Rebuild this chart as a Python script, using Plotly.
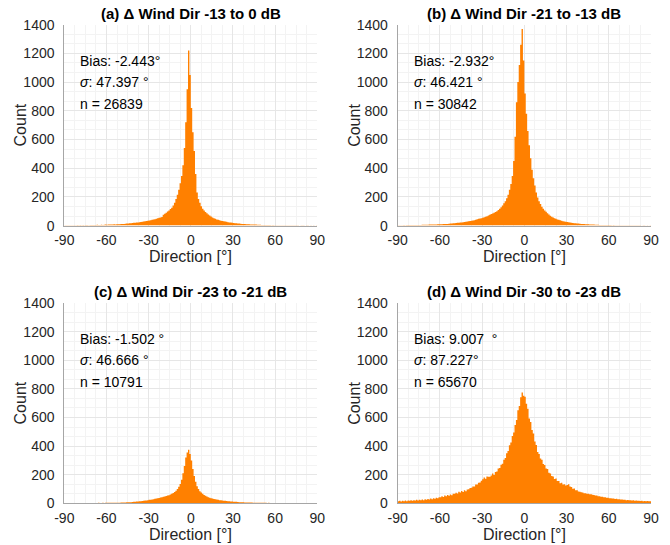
import numpy as np
import plotly.graph_objects as go

# 1-degree bins from -90 to 90
BIN_LEFT = list(range(-90, 90))
X_TICKS = [-90, -60, -30, 0, 30, 60, 90]
Y_TICKS = [0, 200, 400, 600, 800, 1000, 1200, 1400]

TITLES = ["(a) \u0394 Wind Dir -13 to 0 dB", "(b) \u0394 Wind Dir -21 to -13 dB",
          "(c) \u0394 Wind Dir -23 to -21 dB", "(d) \u0394 Wind Dir -30 to -23 dB"]
BIAS = ["Bias: -2.443\u00b0", "Bias: -2.932\u00b0", "Bias: -1.502 \u00b0", "Bias: 9.007  \u00b0"]
SIGMA = ["<i>\u03c3</i>: 47.397 \u00b0", "<i>\u03c3</i>: 46.421 \u00b0",
         "<i>\u03c3</i>: 46.666 \u00b0", "<i>\u03c3</i>: 87.227\u00b0"]
NCOUNT = ["n = 26839", "n = 30842", "n = 10791", "n = 65670"]

counts_a = [
    2, 3, 2, 3, 2, 3, 3, 2, 3, 4,
    3, 4, 3, 4, 3, 5, 4, 3, 4, 5,
    4, 5, 4, 6, 5, 5, 6, 5, 6, 7,
    6, 7, 8, 7, 8, 9, 8, 9, 10, 9,
    11, 12, 12, 13, 14, 15, 16, 17, 18, 19,
    20, 21, 22, 24, 25, 26, 28, 30, 32, 34,
    35, 37, 40, 42, 45, 48, 51, 54, 57, 60,
    75, 82, 90, 98, 106, 115, 125, 140, 160, 185,
    215, 250, 295, 345, 420, 540, 720, 950, 1220, 1050,
    820, 650, 520, 360, 230, 185, 160, 135, 118, 105,
    95, 86, 78, 70, 63, 57, 52, 47, 43, 40,
    37, 34, 32, 30, 28, 26, 24, 22, 21, 20,
    18, 17, 16, 15, 14, 13, 12, 11, 11, 10,
    9, 9, 8, 8, 7, 7, 7, 6, 6, 6,
    5, 5, 4, 5, 4, 4, 4, 3, 4, 3,
    3, 3, 3, 3, 2, 3, 2, 2, 3, 2,
    2, 2, 2, 3, 2, 2, 2, 1, 2, 2,
    2, 1, 2, 2, 1, 2, 1, 2, 1, 2,
]

counts_b = [
    3, 3, 3, 3, 4, 3, 4, 4, 4, 4,
    4, 4, 4, 5, 5, 5, 5, 6, 6, 6,
    6, 6, 7, 7, 7, 8, 8, 8, 9, 9,
    10, 10, 11, 11, 12, 12, 13, 14, 15, 16,
    17, 18, 19, 20, 21, 22, 24, 25, 27, 28,
    30, 32, 34, 36, 38, 41, 44, 47, 50, 52,
    55, 58, 62, 66, 70, 75, 80, 85, 90, 95,
    100, 108, 118, 128, 140, 155, 170, 190, 215, 250,
    290, 345, 450, 620, 860, 1000, 1120, 1260, 1370, 1150,
    920, 780, 660, 560, 470, 390, 330, 280, 230, 195,
    170, 150, 132, 118, 106, 96, 86, 77, 69, 62,
    56, 51, 47, 43, 40, 37, 34, 31, 29, 27,
    25, 23, 21, 20, 18, 17, 16, 15, 14, 13,
    12, 11, 11, 10, 9, 9, 8, 8, 7, 7,
    6, 6, 6, 5, 5, 5, 5, 4, 4, 4,
    4, 4, 3, 4, 3, 3, 3, 3, 3, 3,
    3, 2, 3, 2, 2, 3, 2, 2, 2, 2,
    2, 2, 2, 1, 2, 2, 1, 2, 1, 2,
]

counts_c = [
    1, 1, 2, 1, 1, 1, 2, 1, 1, 2,
    1, 2, 1, 2, 1, 2, 2, 1, 2, 2,
    2, 2, 2, 2, 3, 2, 2, 3, 2, 3,
    3, 3, 3, 3, 4, 3, 4, 4, 4, 4,
    5, 5, 6, 6, 7, 7, 8, 8, 9, 10,
    11, 12, 13, 14, 15, 16, 17, 19, 20, 22,
    24, 25, 27, 29, 31, 33, 35, 37, 40, 42,
    45, 48, 51, 54, 57, 61, 66, 72, 79, 88,
    100, 115, 135, 165, 210, 260, 320, 355, 375, 345,
    300, 240, 190, 150, 120, 100, 85, 75, 66, 58,
    52, 47, 43, 39, 36, 33, 30, 28, 26, 24,
    22, 21, 19, 18, 17, 16, 15, 14, 13, 12,
    11, 10, 10, 9, 8, 8, 7, 7, 6, 6,
    6, 5, 5, 5, 4, 4, 4, 4, 3, 3,
    3, 3, 3, 3, 2, 3, 2, 2, 2, 2,
    2, 2, 2, 2, 2, 1, 2, 2, 1, 2,
    1, 2, 1, 1, 2, 1, 1, 1, 2, 1,
    1, 1, 1, 1, 1, 1, 1, 1, 1, 1,
]

counts_d = [
    14, 17, 12, 18, 15, 19, 14, 20, 17, 21,
    17, 22, 19, 24, 19, 25, 21, 27, 22, 28,
    25, 30, 27, 33, 29, 36, 32, 39, 35, 43,
    42, 49, 44, 54, 49, 58, 53, 62, 57, 67,
    66, 74, 69, 80, 75, 86, 79, 91, 85, 97,
    98, 107, 108, 118, 117, 131, 132, 144, 146, 158,
    168, 181, 172, 188, 186, 185, 194, 208, 198, 218,
    222, 243, 247, 270, 276, 305, 316, 350, 365, 405,
    425, 470, 495, 548, 582, 650, 680, 742, 775, 752,
    745, 695, 660, 592, 568, 512, 488, 432, 408, 358,
    345, 314, 305, 274, 268, 244, 240, 214, 208, 190,
    188, 170, 173, 156, 155, 141, 143, 131, 133, 124,
    128, 134, 118, 114, 102, 103, 92, 92, 83, 81,
    77, 76, 71, 71, 67, 67, 63, 63, 59, 58,
    54, 54, 49, 49, 45, 46, 42, 43, 39, 39,
    36, 36, 33, 34, 30, 31, 28, 29, 26, 27,
    24, 25, 22, 23, 21, 22, 19, 21, 18, 19,
    17, 18, 16, 17, 15, 16, 15, 16, 14, 15,
]

ALL_COUNTS = [counts_a, counts_b, counts_c, counts_d]

W, H = 670, 545
ORANGE = "#ff8000"
FONT = "Liberation Sans, Arial, Helvetica, sans-serif"

# panel pixel boxes (left, right, top, bottom)
boxes = [(64.3, 317.3, 24.7, 225.6), (397.7, 651.0, 24.7, 225.6),
         (64.3, 317.3, 303.0, 503.3), (397.7, 651.0, 303.0, 503.3)]

fig = go.Figure()
layout = dict(width=W, height=H, margin=dict(l=0, r=0, t=0, b=0, pad=0, autoexpand=False),
              paper_bgcolor="white", plot_bgcolor="white", showlegend=False,
              font=dict(family=FONT, size=14, color="#262626"))
annotations = []

for i, (cnts, box) in enumerate(zip(ALL_COUNTS, boxes)):
    n = "" if i == 0 else str(i + 1)
    xs = BIN_LEFT + [90]
    ys = cnts + [cnts[-1]]
    fig.add_trace(go.Scatter(x=xs, y=ys, mode="lines", line=dict(width=0, shape="hv", color=ORANGE),
                             fill="tozeroy", fillcolor=ORANGE, xaxis="x" + n, yaxis="y" + n,
                             hoverinfo="skip"))
    l, r, t, b = box
    xd = [l / W, r / W]
    yd = [1 - b / H, 1 - t / H]
    common = dict(showgrid=True, gridcolor="#e6e6e6", gridwidth=1,
                  showline=True, linecolor="#a6a6a6", linewidth=1, ticks="",
                  zeroline=False, fixedrange=True, automargin=False,
                  tickfont=dict(size=14, color="#262626", family=FONT))
    layout["xaxis" + n] = dict(domain=xd, range=[-90, 90], tickvals=X_TICKS, ticktext=[str(v) for v in X_TICKS],
                               minor=dict(dtick=7.5, tick0=0, showgrid=True, gridcolor="#f3f3f3", gridwidth=1),
                               anchor="y" + n, ticklabelstandoff=2, **common)
    layout["yaxis" + n] = dict(domain=yd, range=[0, 1400], tickvals=Y_TICKS, ticktext=[str(v) for v in Y_TICKS],
                               minor=dict(dtick=200 / 3, tick0=0, showgrid=True, gridcolor="#f3f3f3", gridwidth=1),
                               anchor="x" + n, ticklabelstandoff=6, **common)
    cx = (l + r) / 2 / W
    # title
    annotations.append(dict(text="<b>" + TITLES[i] + "</b>", x=cx, y=1 - (t - 11.5) / H, xref="paper", yref="paper",
                            showarrow=False, xanchor="center", yanchor="middle",
                            font=dict(size=15, color="black", family=FONT)))
    # x label
    annotations.append(dict(text="Direction [\u00b0]", x=cx, y=1 - (b + 31) / H, xref="paper", yref="paper",
                            showarrow=False, xanchor="center", yanchor="middle",
                            font=dict(size=16, color="#262626", family=FONT)))
    # y label
    annotations.append(dict(text="Count", x=(l - 44) / W, y=1 - (t + b) / 2 / H, xref="paper", yref="paper",
                            showarrow=False, xanchor="center", yanchor="middle", textangle=-90,
                            font=dict(size=16, color="#262626", family=FONT)))
    # stats text
    for txt, yv in zip([BIAS[i], SIGMA[i], NCOUNT[i]], [1150, 1000, 850]):
        annotations.append(dict(text=txt, x=-80, y=yv, xref="x" + n, yref="y" + n, showarrow=False,
                                xanchor="left", yanchor="middle", font=dict(size=14, color="black", family=FONT)))

layout["annotations"] = annotations
fig.update_layout(**layout)
fig.write_html("out.html", config={"displayModeBar": False},
               post_script="document.body.style.margin='0px';document.body.style.padding='0px';")
